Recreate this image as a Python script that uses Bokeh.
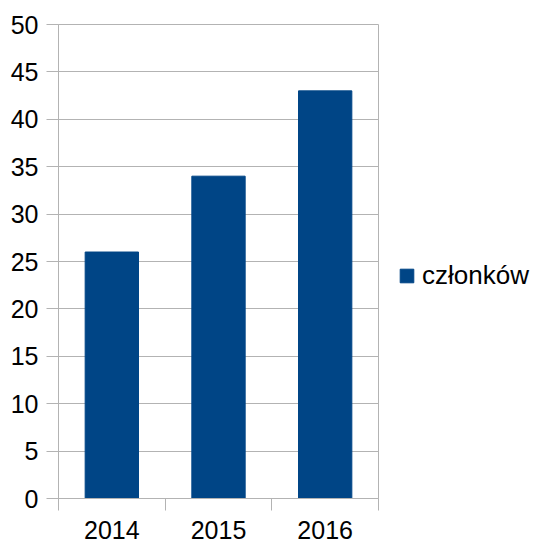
from bokeh.plotting import figure
from bokeh.models import ColumnDataSource, FixedTicker, LinearAxis, Legend, LegendItem, Range1d
from bokeh.embed import file_html
from bokeh.resources import INLINE

years = ["2014", "2015", "2016"]
members = [26, 34, 43]
series_name = "członków"
y_ticks = list(range(0, 51, 5))

FONT = "Liberation Sans"
GRID = "#b3b3b3"
BAR = "#004586"

xs = [i + 0.5 for i in range(len(years))]
bounds = list(range(len(years) + 1))
src = ColumnDataSource(dict(x=xs, top=members, year=years))

p = figure(frame_width=320, frame_height=474, output_backend="svg", toolbar_location=None,
           x_range=Range1d(0, len(years)), y_range=Range1d(0, 50),
           min_border_left=58, min_border_right=0, min_border_top=24, min_border_bottom=44,
           x_axis_location=None, y_axis_location=None)
p.outline_line_color = GRID

r = p.vbar(x="x", top="top", width=0.5, source=src, color=BAR)

# y axis
ya = LinearAxis(ticker=FixedTicker(ticks=y_ticks))
ya.axis_line_color = GRID
ya.major_tick_line_color = GRID
ya.major_tick_out = 12
ya.major_tick_in = 0
ya.minor_tick_line_color = None
ya.major_label_standoff = 8
ya.major_label_text_font = FONT
ya.major_label_text_font_size = "25px"
ya.major_label_text_color = "black"
p.add_layout(ya, "left")

# x axis: labels at category centres, tick marks at category boundaries
xa = LinearAxis(ticker=FixedTicker(ticks=xs, minor_ticks=bounds),
                major_label_overrides={x: y for x, y in zip(xs, years)})
xa.axis_line_color = GRID
xa.major_tick_line_color = None
xa.major_tick_out = 12
xa.major_tick_in = 0
xa.minor_tick_line_color = GRID
xa.minor_tick_out = 12
xa.minor_tick_in = 0
xa.major_label_standoff = 10
xa.major_label_text_font = FONT
xa.major_label_text_font_size = "25px"
xa.major_label_text_color = "black"
p.add_layout(xa, "below")

p.xgrid.visible = False
p.ygrid.ticker = FixedTicker(ticks=y_ticks)
p.ygrid.grid_line_color = GRID

legend = Legend(items=[LegendItem(label=series_name, renderers=[r])],
                location=(20, 207), padding=0, margin=0,
                glyph_width=17, glyph_height=17, label_standoff=7,
                label_text_font=FONT, label_text_font_size="26px",
                label_text_color="black", border_line_color=None,
                background_fill_alpha=0)
p.add_layout(legend, "right")

open("out.html", "w").write(file_html(p, INLINE))
